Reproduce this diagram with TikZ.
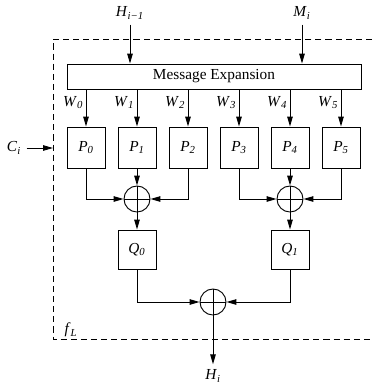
\documentclass[tikz,border=0pt]{standalone}
\usepackage{fontspec}
\setmainfont{Liberation Serif}
\usetikzlibrary{arrows.meta,positioning}

% italic symbol with italic subscript
\newcommand{\sym}[2]{\textit{#1}\textsubscript{\textit{#2}}}

\begin{document}
\begin{tikzpicture}[x=0.653pt,y=-0.653pt,->,>={Triangle[length=6.5pt,width=3.6pt]},line width=0.6pt]
  \tikzset{
    every node/.style={font=\normalsize},
    blk/.style={draw,rectangle,inner sep=0pt,minimum width=24.8pt,minimum height=26.8pt},
    qblk/.style={blk,minimum height=25.5pt},
    xor/.style={draw,circle,inner sep=0pt,minimum size=17pt,
      path picture={\draw[-] (path picture bounding box.north) -- (path picture bounding box.south)
        (path picture bounding box.west) -- (path picture bounding box.east);}},
    wlbl/.style={left,inner sep=1.5pt,font=\normalsize}
  }
  \useasboundingbox (0,0) rectangle (372,385);

  % boundary of f_L
  \draw[-,dashed,dash pattern=on 4pt off 2.6pt] (372,39) -| (53,339) -- (372,339);
  \node (fL) at (71,330) {\sym{f}{L}};

  \node[draw,rectangle,inner sep=0pt,minimum width=192pt,minimum height=16.3pt] (msg) at (214,76.5) {Message Expansion};
  \node (Hin) at (130,13) {\sym{H}{i−1}};
  \node (Mi) at (302,13) {\sym{M}{i}};
  \draw (Hin.south) -- (Hin.south |- msg.north);
  \draw (Mi.south) -- (Mi.south |- msg.north);

  % first layer
  \foreach \i/\x in {0/86,1/137,2/188,3/239,4/290,5/341} {
    \node[blk] (P\i) at (\x,147.5) {\sym{P}{\i}};
    \draw (msg.south -| P\i) -- node[wlbl,pos=0.35] {\sym{W}{\i}} (P\i.north);
  }

  \node (Ci) at (14,148) {\sym{C}{i}};
  \coordinate (edge) at (53,148);
  \draw (Ci) -- (edge);

  \node[xor] (x0) at (137,199) {};
  \node[xor] (x1) at (290,199) {};
  \draw (P0.south) |- (x0.west);
  \draw (P1.south) -- (x0.north);
  \draw (P2.south) |- (x0.east);
  \draw (P3.south) |- (x1.west);
  \draw (P4.south) -- (x1.north);
  \draw (P5.south) |- (x1.east);

  % second layer
  \node[qblk] (Q0) at (137,249.5) {\sym{Q}{0}};
  \node[qblk] (Q1) at (290,249.5) {\sym{Q}{1}};
  \draw (x0.south) -- (Q0.north);
  \draw (x1.south) -- (Q1.north);

  \node[xor] (x2) at (213,302) {};
  \draw (Q0.south) |- (x2.west);
  \draw (Q1.south) |- (x2.east);

  \node (Hout) at (213,376) {\sym{H}{i}};
  \draw (x2.south) -- (Hout.north);
\end{tikzpicture}
\end{document}
